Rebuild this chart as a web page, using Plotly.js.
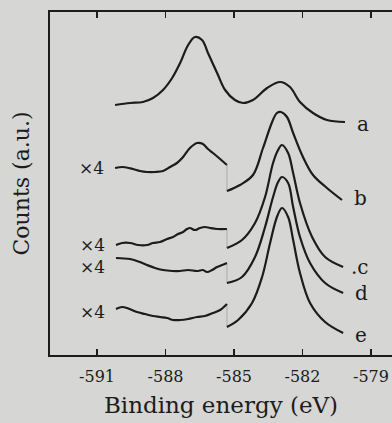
<!DOCTYPE html>
<html>
<head>
<meta charset="utf-8">
<script src="https://cdn.plot.ly/plotly-3.0.1.min.js"></script>
<style>html,body{margin:0;padding:0;background:#d6d6d4;}#chart{width:392px;height:423px;}</style>
</head>
<body>
<div id="chart"></div>
<script>
// Binding energy (eV) and counts (a.u.)
const aE = [-590.21,-589.55,-588.99,-588.55,-588.11,-587.71,-587.36,-587.01,-586.71,-586.40,-586.14,-585.74,-585.39,-584.96,-584.60,-584.17,-583.55,-582.98,-582.55,-582.11,-581.54,-580.93,-580.14];
const aC = [250,252,253,257,265,277,292,310,318,315,302,282,265,255,252,255,267,273,268,253,242,235,233];

const bLowE = [-590.21,-589.86,-589.42,-589.12,-588.81,-588.46,-588.11,-587.80,-587.50,-587.23,-586.93,-586.62,-586.36,-586.14,-585.92,-585.61,-585.31];
const bLowC = [187,188,186,184,183,183,184,188,192,198,207,212,211,206,202,196,190];
const bE = [-585.31,-584.74,-584.17,-583.73,-583.33,-583.12,-582.94,-582.68,-582.41,-582.02,-581.54,-580.93,-580.27];
const bC = [164,170,180,207,233,242,243,238,222,200,180,167,155];

const cLowE = [-590.17,-589.90,-589.55,-589.20,-588.81,-588.55,-588.24,-587.93,-587.67,-587.45,-587.23,-587.06,-586.93,-586.71,-586.49,-586.27,-586.05,-585.74,-585.31];
const cLowC = [110,112,112,110,110,112,113,116,118,121,123,126,127,125,127,128,127,126,126];
const cE = [-585.31,-584.65,-584.08,-583.64,-583.29,-583.07,-582.90,-582.63,-582.41,-582.11,-581.58,-581.01,-580.22];
const cC = [107,115,132,158,192,205,210,202,182,152,118,98,88];

const dLowE = [-590.17,-589.55,-589.12,-588.81,-588.46,-588.11,-587.71,-587.36,-587.01,-586.62,-586.36,-586.18,-585.96,-585.74,-585.52,-585.31];
const dLowC = [97,96,93,90,87,85,84,84,85,84,85,83,85,88,90,92];
const dE = [-585.31,-584.65,-584.08,-583.64,-583.29,-583.07,-582.90,-582.63,-582.41,-582.11,-581.67,-581.01,-580.22];
const dC = [72,78,98,128,158,173,178,172,148,118,92,72,62];

const eLowE = [-590.17,-589.90,-589.69,-589.47,-589.25,-588.90,-588.55,-588.24,-587.93,-587.67,-587.36,-587.01,-586.62,-586.27,-585.92,-585.61,-585.31];
const eLowC = [46,48,47,45,43,41,39,38,37,35,35,36,38,39,42,45,51];
const eE = [-585.31,-584.82,-584.21,-583.77,-583.42,-583.12,-582.90,-582.63,-582.41,-582.11,-581.67,-581.01,-580.22];
const eC = [28,35,52,78,112,138,147,138,115,82,52,33,22];

const curveLabels = ['a','b','.c','d','e'];
const scaleLabels = ['×4','×4','×4','×4'];
const tickVals = [-591,-588,-585,-582,-579];
const tickText = ['-591','-588','-585','-582','-579'];

const ink = '#1c1c1c';
const serif = '"DejaVu Serif", "Liberation Serif", serif';

function line(x, y) {
  return {x: x, y: y, type: 'scatter', mode: 'lines', hoverinfo: 'skip',
    line: {color: ink, width: 2.2, shape: 'spline', smoothing: 1.0}};
}
function joiner(low, high) {
  return {x: [low[0][low[0].length-1], high[0][0]], y: [low[1][low[1].length-1], high[1][0]],
    type: 'scatter', mode: 'lines', hoverinfo: 'skip', line: {color: '#9a9a9a', width: 0.7}};
}

const lows = [[bLowE,bLowC],[cLowE,cLowC],[dLowE,dLowC],[eLowE,eLowC]];
const highs = [[bE,bC],[cE,cC],[dE,dC],[eE,eC]];

const traces = [line(aE, aC)];
lows.forEach((l, i) => {
  traces.push(joiner(l, highs[i]));
  traces.push(line(l[0], l[1]));
  traces.push(line(highs[i][0], highs[i][1]));
});

const annotations = [];
const ends = [[aE,aC],[bE,bC],[cE,cC],[dE,dC],[eE,eC]];
const labelShift = [-2, 2, 0, 0, -2];
ends.forEach((s, i) => {
  const n = s[0].length - 1;
  annotations.push({x: s[0][n], y: s[1][n], xref: 'x', yref: 'y', text: curveLabels[i],
    showarrow: false, xanchor: 'left', xshift: i === 2 ? 6 : 10, yshift: labelShift[i],
    font: {family: serif, size: 20, color: ink}});
});
const scaleShift = [0, 0, -9, -3];
lows.forEach((l, i) => {
  annotations.push({x: l[0][0], y: l[1][0], xref: 'x', yref: 'y', text: scaleLabels[i],
    showarrow: false, xanchor: 'right', xshift: -9, yshift: scaleShift[i],
    font: {family: serif, size: 17, color: ink}});
});

const layout = {
  width: 392, height: 423,
  margin: {l: 50, r: 0, t: 12, b: 68},
  paper_bgcolor: '#d6d6d4', plot_bgcolor: '#d6d6d4',
  showlegend: false,
  xaxis: {range: [-593.06, -578.08], tickvals: tickVals, ticktext: tickText,
    ticks: 'inside', ticklen: 6, tickwidth: 1.6, tickcolor: ink,
    showline: true, linecolor: ink, linewidth: 2, mirror: 'allticks',
    showgrid: false, zeroline: false, ticklabelstandoff: 6,
    tickfont: {family: serif, size: 16, color: ink},
    title: {text: 'Binding energy (eV)', font: {family: serif, size: 23, color: ink}, standoff: 12}},
  yaxis: {range: [0, 343], showticklabels: false, ticks: '',
    showline: true, linecolor: ink, linewidth: 2, mirror: false,
    showgrid: false, zeroline: false,
    title: {text: 'Counts (a.u.)', font: {family: serif, size: 22, color: ink}, standoff: 12}},
  annotations: annotations
};

Plotly.newPlot('chart', traces, layout, {staticPlot: true, displayModeBar: false});
</script>
</body>
</html>
